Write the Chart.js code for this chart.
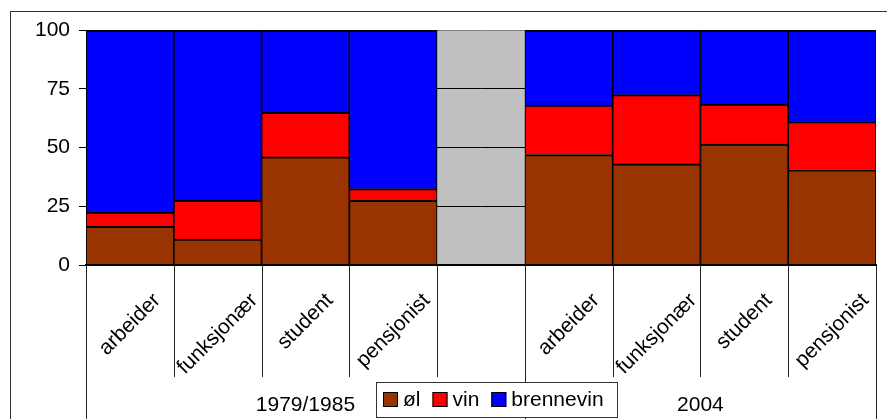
<!DOCTYPE html>
<html>
<head>
<meta charset="utf-8">
<script src="https://cdn.jsdelivr.net/npm/chart.js@4"></script>
<style>
  body { margin: 0; background: #fff; }
  #wrap { width: 887px; height: 419px; }
</style>
</head>
<body>
<div id="wrap"><canvas id="drinkChart" width="887" height="419"></canvas></div>
<script>
const categories = ['arbeider', 'funksjonær', 'student', 'pensjonist', '', 'arbeider', 'funksjonær', 'student', 'pensjonist'];
const groupNames = ['1979/1985', '2004'];
const groupSizes = [5, 4];
const yTicks = [0, 25, 50, 75, 100];

const ol = [16.5, 11, 46, 27.5, null, 47, 43, 51.5, 40.5];
const vin = [6, 16.5, 19, 5, null, 21, 29.5, 17, 20.5];
const brennevin = [77.5, 72.5, 35, 67.5, null, 32, 27.5, 31.5, 39];

const FONT = '"Liberation Sans", Arial, sans-serif';

// grey plot background + outer frame
const backdrop = {
  id: 'backdrop',
  beforeDraw(chart) {
    const { ctx, chartArea: a } = chart;
    ctx.save();
    ctx.fillStyle = '#C0C0C0';
    ctx.fillRect(a.left, a.top, a.right - a.left, a.bottom - a.top);
    ctx.strokeStyle = '#333';
    ctx.lineWidth = 1;
    ctx.strokeRect(10.5, 11.5, chart.width + 20, chart.height + 20);
    ctx.restore();
  }
};

// category labels, separators, group labels and legend
const axisDecor = {
  id: 'axisDecor',
  afterDraw(chart) {
    const { ctx, chartArea: a } = chart;
    const xs = chart.scales.x;
    const n = categories.length;
    const half = (xs.getPixelForValue(1) - xs.getPixelForValue(0)) / 2;
    const edge = i => i === 0 ? xs.getPixelForValue(0) - half : xs.getPixelForValue(i - 1) + half;

    ctx.save();
    ctx.strokeStyle = '#222';
    ctx.lineWidth = 1;
    const groupEdges = [0];
    groupSizes.reduce((s, g) => { groupEdges.push(s + g); return s + g; }, 0);
    for (let i = 0; i <= n; i++) {
      const x = Math.round(edge(i)) + 0.5;
      const full = groupEdges.includes(i);
      ctx.beginPath();
      ctx.moveTo(x, a.bottom);
      ctx.lineTo(x, full ? chart.height : 377);
      ctx.stroke();
    }

    ctx.fillStyle = '#000';
    ctx.font = '21px ' + FONT;
    ctx.textAlign = 'center';
    ctx.textBaseline = 'middle';
    categories.forEach((lab, i) => {
      if (!lab) return;
      const w = ctx.measureText(lab).width;
      const cx = xs.getPixelForValue(i);
      const cy = 292 + (w + 15) * 0.3536;
      ctx.save();
      ctx.translate(cx, cy);
      ctx.rotate(-Math.PI / 4);
      ctx.fillText(lab, 0, 0);
      ctx.restore();
    });

    groupNames.forEach((g, k) => {
      const x0 = edge(groupEdges[k]);
      const x1 = edge(groupEdges[k + 1]);
      ctx.fillText(g, (x0 + x1) / 2, 405);
    });

    // legend
    const lx = 376, ly = 382, lw = 241, lh = 35;
    ctx.fillStyle = '#fff';
    ctx.fillRect(lx, ly, lw, lh);
    ctx.strokeStyle = '#333';
    ctx.strokeRect(lx + 0.5, ly + 0.5, lw, lh);
    ctx.textAlign = 'left';
    let x = lx + 7;
    chart.data.datasets.forEach(ds => {
      ctx.fillStyle = ds.backgroundColor;
      ctx.fillRect(x, 392, 15, 15);
      ctx.strokeStyle = '#000';
      ctx.strokeRect(x + 0.5, 392.5, 14, 14);
      ctx.fillStyle = '#000';
      ctx.fillText(ds.label, x + 20, 400);
      x += 20 + ctx.measureText(ds.label).width + 12;
    });
    ctx.restore();
  }
};

const barStyle = {
  borderColor: '#000',
  borderWidth: { top: 2, left: 1.2, right: 1.2, bottom: 0 },
  borderSkipped: false,
  barPercentage: 1,
  categoryPercentage: 1
};

new Chart(document.getElementById('drinkChart').getContext('2d'), {
  type: 'bar',
  data: {
    labels: categories,
    datasets: [
      { label: 'øl', data: ol, backgroundColor: '#993300', ...barStyle },
      { label: 'vin', data: vin, backgroundColor: '#FF0000', ...barStyle },
      { label: 'brennevin', data: brennevin, backgroundColor: '#0000FF', ...barStyle }
    ]
  },
  options: {
    responsive: false,
    animation: false,
    layout: { padding: { top: 30, right: 11, left: 0, bottom: 0 } },
    plugins: {
      legend: { display: false },
      tooltip: { enabled: false }
    },
    scales: {
      x: {
        stacked: true,
        grid: { display: false },
        border: { display: true, color: '#000', width: 2, z: 1 },
        ticks: { display: false },
        afterFit(scale) { scale.height = 154; }
      },
      y: {
        stacked: true,
        min: 0,
        max: 100,
        afterBuildTicks(scale) { scale.ticks = yTicks.map(v => ({ value: v })); },
        afterFit(scale) { scale.width = 86; },
        border: { display: true, color: '#000', width: 1 },
        grid: {
          color: c => (c.tick && (c.tick.value === 0 || c.tick.value === 100)) ? (c.tick.value === 100 ? '#808080' : 'rgba(0,0,0,0)') : '#000',
          tickColor: '#000',
          tickLength: 7,
          lineWidth: 1
        },
        ticks: {
          color: '#000',
          padding: 9,
          font: { family: FONT, size: 21 }
        }
      }
    }
  },
  plugins: [backdrop, axisDecor]
});
</script>
</body>
</html>
